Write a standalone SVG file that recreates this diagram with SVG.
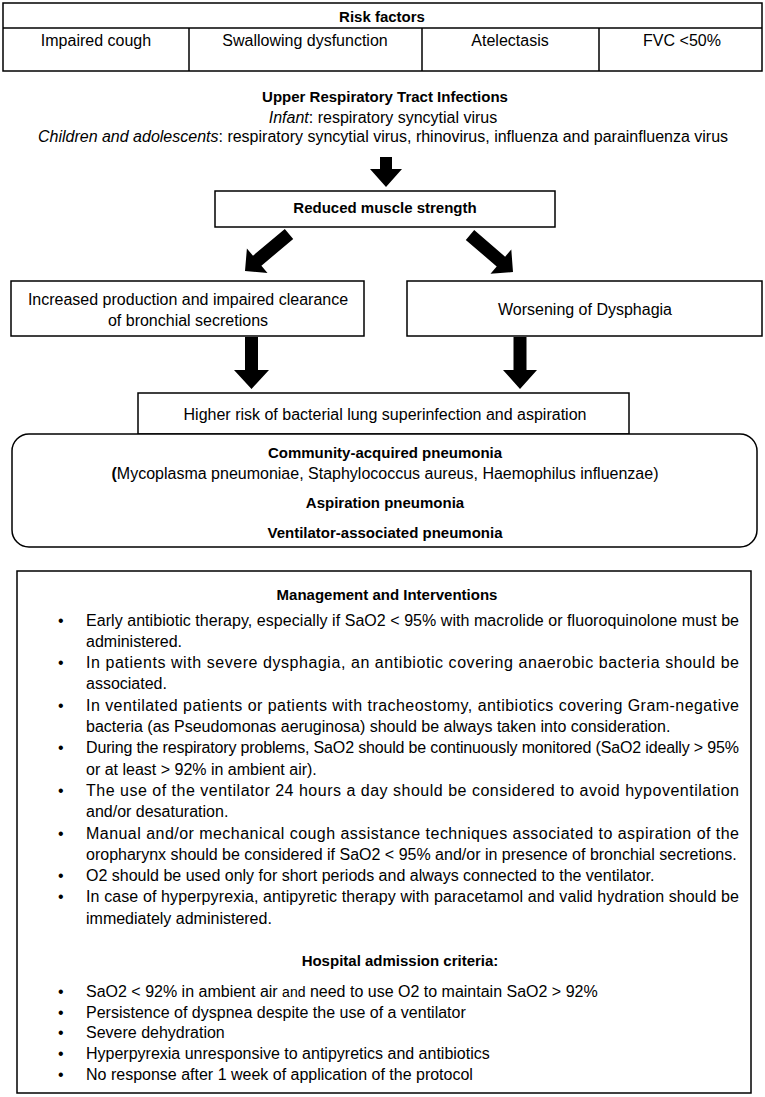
<svg xmlns="http://www.w3.org/2000/svg" width="765" height="1097" viewBox="0 0 765 1097">
<style>
text{font-family:"Liberation Sans",Arial,sans-serif;font-size:16px;fill:#000}
.b{font-weight:bold;font-size:15px}
.c{text-anchor:middle}
.box{fill:#fff;stroke:#000;stroke-width:1.5}
.ln{stroke:#000;stroke-width:1.5;fill:none}
.arr{fill:#000;stroke:none}
</style>
<rect width="765" height="1097" fill="#fff"/>

<g id="risk-factors">
<rect class="box" x="3" y="3" width="759" height="68"/>
<line class="ln" x1="3" y1="28" x2="762" y2="28"/>
<line class="ln" x1="189" y1="28" x2="189" y2="71"/>
<line class="ln" x1="422" y1="28" x2="422" y2="71"/>
<line class="ln" x1="599" y1="28" x2="599" y2="71"/>
<text class="b c" x="382" y="22">Risk factors</text>
<text class="c" x="96" y="45.5">Impaired cough</text>
<text class="c" x="305" y="45.5">Swallowing dysfunction</text>
<text class="c" x="510" y="45.5">Atelectasis</text>
<text class="c" x="682" y="45.5">FVC &lt;50%</text>
</g>

<g id="urti">
<text class="b c" x="385" y="102">Upper Respiratory Tract Infections</text>
<text class="c" x="383" y="122.5"><tspan font-style="italic">Infant</tspan>: respiratory syncytial virus</text>
<text class="c" x="383" y="141.5"><tspan font-style="italic">Children and adolescents</tspan>: respiratory syncytial virus, rhinovirus, influenza and parainfluenza virus</text>
</g>

<g id="reduced-muscle">
<rect class="box" x="215" y="191" width="340" height="36"/>
<text class="b c" x="385" y="213">Reduced muscle strength</text>
</g>

<g id="secretions">
<rect class="box" x="11" y="281" width="353" height="55"/>
<text class="c" x="188" y="304.5">Increased production and impaired clearance</text>
<text class="c" x="188" y="325.5">of bronchial secretions</text>
</g>

<g id="dysphagia">
<rect class="box" x="407" y="281" width="355" height="55"/>
<text class="c" x="585" y="314.5">Worsening of Dysphagia</text>
</g>

<g id="higher-risk">
<rect class="box" x="138" y="393" width="491" height="41"/>
<text class="c" x="385" y="419.5">Higher risk of bacterial lung superinfection and aspiration</text>
</g>

<g id="pneumonia">
<rect class="box" x="12" y="434" width="745" height="113" rx="17" ry="17"/>
<text class="b c" x="385" y="458">Community-acquired pneumonia</text>
<text class="c" x="385" y="478.5"><tspan font-weight="bold">(</tspan>Mycoplasma pneumoniae, Staphylococcus aureus, Haemophilus influenzae)</text>
<text class="b c" x="385" y="508">Aspiration pneumonia</text>
<text class="b c" x="385" y="538">Ventilator-associated pneumonia</text>
</g>

<g id="connectors">
<polygon class="arr" points="380,157 392,157 392,169 402,169 386,187 370,169 380,169"/>
<polygon class="arr" points="284.8,229 253,255.7 246.9,248.5 245,271 267.5,272.9 261.4,265.7 293.2,239"/>
<polygon class="arr" points="474.2,230.1 505.1,256.7 511.3,249.5 513,272 490.5,273.7 496.7,266.5 465.8,239.9"/>
<polygon class="arr" points="245,337 258,337 258,370 269,370 251.5,389 234,370 245,370"/>
<polygon class="arr" points="513.5,337 526.5,337 526.5,370 537,370 520,389 503,370 513.5,370"/>
</g>

<g id="management">
<rect class="box" x="17" y="571" width="734" height="522"/>
<text class="b c" x="387" y="600">Management and Interventions</text>
<g id="mgmt-bullets">
<text x="58" y="625.5">•</text>
<text x="86" y="625.5" textLength="653" lengthAdjust="spacing">Early antibiotic therapy, especially if SaO2 &lt; 95% with macrolide or fluoroquinolone must be</text>
<text x="86" y="646.8">administered.</text>
<text x="58" y="668.1">•</text>
<text x="86" y="668.1" textLength="653" lengthAdjust="spacing">In patients with severe dysphagia, an antibiotic covering anaerobic bacteria should be</text>
<text x="86" y="689.4">associated.</text>
<text x="58" y="710.7">•</text>
<text x="86" y="710.7" textLength="653" lengthAdjust="spacing">In ventilated patients or patients with tracheostomy, antibiotics covering Gram-negative</text>
<text x="86" y="732">bacteria (as Pseudomonas aeruginosa) should be always taken into consideration.</text>
<text x="58" y="753.3">•</text>
<text x="86" y="753.3" textLength="653" lengthAdjust="spacing">During the respiratory problems, SaO2 should be continuously monitored (SaO2 ideally &gt; 95%</text>
<text x="86" y="774.6">or at least &gt; 92% in ambient air).</text>
<text x="58" y="795.9">•</text>
<text x="86" y="795.9" textLength="653" lengthAdjust="spacing">The use of the ventilator 24 hours a day should be considered to avoid hypoventilation</text>
<text x="86" y="817.2">and/or desaturation.</text>
<text x="58" y="838.5">•</text>
<text x="86" y="838.5" textLength="653" lengthAdjust="spacing">Manual and/or mechanical cough assistance techniques associated to aspiration of the</text>
<text x="86" y="859.8">oropharynx should be considered if SaO2 &lt; 95% and/or in presence of bronchial secretions.</text>
<text x="58" y="881.1">•</text>
<text x="86" y="881.1">O2 should be used only for short periods and always connected to the ventilator.</text>
<text x="58" y="902.4">•</text>
<text x="86" y="902.4" textLength="653" lengthAdjust="spacing">In case of hyperpyrexia, antipyretic therapy with paracetamol and valid hydration should be</text>
<text x="86" y="923.7">immediately administered.</text>
</g>
<text class="b c" x="400" y="966">Hospital admission criteria:</text>
<g id="admission-bullets">
<text x="58" y="996.5">•</text>
<text x="86" y="996.5">SaO2 &lt; 92% in ambient air <tspan font-size="14">and</tspan> need to use O2 to maintain SaO2 &gt; 92%</text>
<text x="58" y="1017.5">•</text>
<text x="86" y="1017.5">Persistence of dyspnea despite the use of a ventilator</text>
<text x="58" y="1038">•</text>
<text x="86" y="1038">Severe dehydration</text>
<text x="58" y="1058.5">•</text>
<text x="86" y="1058.5">Hyperpyrexia unresponsive to antipyretics and antibiotics</text>
<text x="58" y="1079.5">•</text>
<text x="86" y="1079.5">No response after 1 week of application of the protocol</text>
</g>
</g>
</svg>
